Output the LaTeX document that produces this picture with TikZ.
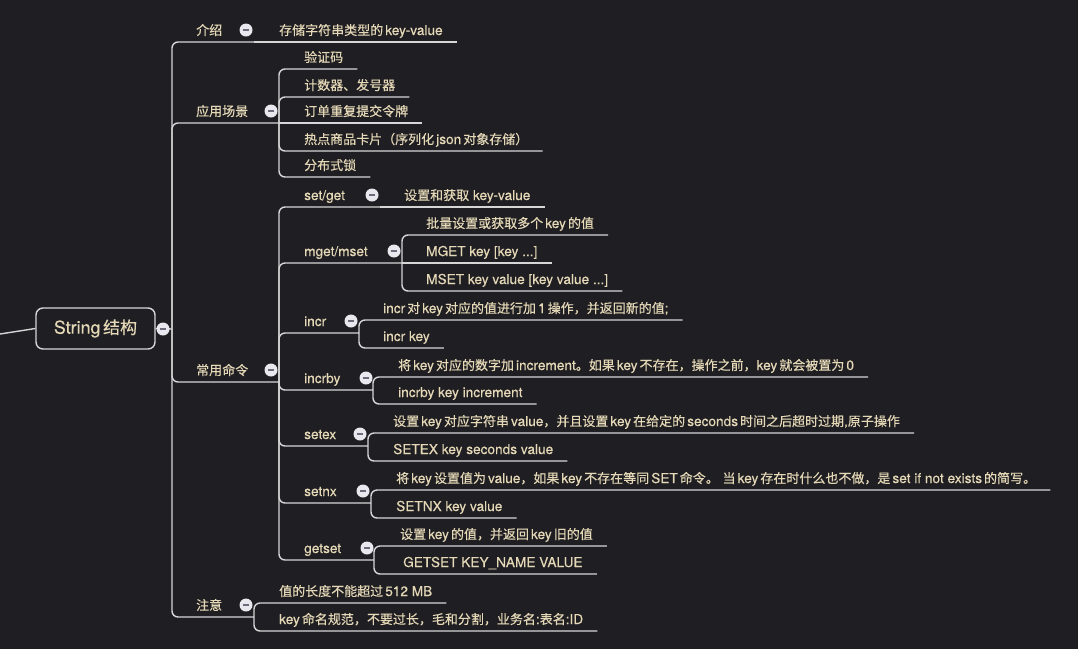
\documentclass[tikz,border=0pt]{standalone}
\usepackage{fontspec}
\setmainfont{TeX Gyre Heros}[FakeBold=0.35, Scale=1.05]
\newfontfamily\latfont{TeX Gyre Heros}[FakeBold=0.35, Scale=1.05]
\newfontfamily\cjkfont{Noto Sans CJK SC}[FakeBold=0.35]
\usetikzlibrary{calc}

% ideographs and full-width punctuation are set in the CJK family,
% with a thin gap where ideographs meet Latin letters or digits
\XeTeXinterchartokenstate=1
\newXeTeXintercharclass\cjkcls
\newXeTeXintercharclass\cjkpcls
\newXeTeXintercharclass\asciipcls
\newcount\cjkcnt
\cjkcnt="3040
\loop\XeTeXcharclass\cjkcnt=\cjkcls\relax\advance\cjkcnt by 1\relax\ifnum\cjkcnt<"A000\repeat
\cjkcnt="3000
\loop\XeTeXcharclass\cjkcnt=\cjkpcls\relax\advance\cjkcnt by 1\relax\ifnum\cjkcnt<"3040\repeat
\cjkcnt="FF00
\loop\XeTeXcharclass\cjkcnt=\cjkpcls\relax\advance\cjkcnt by 1\relax\ifnum\cjkcnt<"FFF0\repeat
\XeTeXcharclass`\,=\asciipcls
\XeTeXcharclass`\.=\asciipcls
\XeTeXcharclass`\:=\asciipcls
\XeTeXcharclass`\;=\asciipcls

\XeTeXinterchartoks 0 \cjkcls={\hskip0.15em\cjkfont}
\XeTeXinterchartoks 4095 \cjkcls={\cjkfont}
\XeTeXinterchartoks \cjkcls 0={\latfont\hskip0.15em}
\XeTeXinterchartoks \cjkcls 4095={\latfont}
\XeTeXinterchartoks 0 \cjkpcls={\cjkfont}
\XeTeXinterchartoks 4095 \cjkpcls={\cjkfont}
\XeTeXinterchartoks \cjkpcls 0={\latfont}
\XeTeXinterchartoks \cjkpcls 4095={\latfont}
\XeTeXinterchartoks \cjkcls \asciipcls={\latfont}
\XeTeXinterchartoks \cjkpcls \asciipcls={\latfont}
\XeTeXinterchartoks \asciipcls \cjkcls={\cjkfont}
\XeTeXinterchartoks \asciipcls \cjkpcls={\cjkfont}

\definecolor{bg}{HTML}{1F1E23}
\definecolor{ink}{HTML}{E4D8B6}
\definecolor{wire}{HTML}{D6D6D6}
\definecolor{knob}{HTML}{E8E8EE}
\definecolor{knobmark}{HTML}{6B6B7A}

\tikzset{
  conn/.style={draw=wire, line width=1.4pt, rounded corners=6pt},
  lbl/.style={anchor=base west, inner sep=0pt, text=ink,
    font=\fontsize{13}{15}\selectfont},
  rootbox/.style={draw=wire, line width=1.4pt, rounded corners=7pt, fill=bg,
    minimum width=119pt, minimum height=41pt, inner sep=0pt, text=ink,
    font=\fontsize{17}{20}\selectfont},
  fold/.style={circle, fill=knob, minimum size=13pt, inner sep=0pt,
    path picture={\draw[knobmark, line width=1.2pt]
      ([xshift=-3pt]path picture bounding box.center) --
      ([xshift=3pt]path picture bounding box.center);}},
}

\begin{document}
\begin{tikzpicture}[x=1pt, y=-1pt]
\fill[bg] (0,0) rectangle (1078,649);
\useasboundingbox (0,0) rectangle (1078,649);

% ---- labels ----
\node[rootbox] (root) at (95.5,328.5) {String结构};

\node[lbl] (jieshao) at (196,35)  {介绍};
\node[lbl] (yycj)    at (196,116) {应用场景};
\node[lbl] (cyml)    at (196,375) {常用命令};
\node[lbl] (zhuyi)   at (196,610) {注意};

\node[lbl] (jsv) at (279,35) {存储字符串类型的key-value};

\node[lbl] (yy1) at (304,62)  {验证码};
\node[lbl] (yy2) at (304,90)  {计数器、发号器};
\node[lbl] (yy3) at (304,116) {订单重复提交令牌};
\node[lbl] (yy4) at (304,144) {热点商品卡片（序列化json对象存储）};
\node[lbl] (yy5) at (304,170) {分布式锁};

\node[lbl] (setget) at (304,200) {set/get};
\node[lbl] (mget)   at (304,256) {mget/mset};
\node[lbl] (incr)   at (304,326) {incr};
\node[lbl] (incrby) at (304,383) {incrby};
\node[lbl] (setex)  at (304,439) {setex};
\node[lbl] (setnx)  at (304,496) {setnx};
\node[lbl] (getset) at (304,553) {getset};

\node[lbl] (sg1) at (404,200) {设置和获取 key-value};
\node[lbl] (mg1) at (426,228) {批量设置或获取多个key的值};
\node[lbl] (mg2) at (426,256) {MGET key [key ...]};
\node[lbl] (mg3) at (426,284) {MSET key value [key value ...]};
\node[lbl] (in1) at (383,313) {incr对key对应的值进行加1操作，并返回新的值;};
\node[lbl] (in2) at (383,341) {incr key};
\node[lbl] (ib1) at (398,370) {将key对应的数字加increment。如果key不存在，操作之前，key就会被置为0};
\node[lbl] (ib2) at (398,397) {incrby key increment};
\node[lbl] (se1) at (393,426) {设置key对应字符串value，并且设置key在给定的seconds时间之后超时过期,原子操作};
\node[lbl] (se2) at (393,454) {SETEX key seconds value};
\node[lbl] (sn1) at (396,483) {将key设置值为value，如果key不存在等同SET命令。 当key存在时什么也不做，是set if not exists的简写。};
\node[lbl] (sn2) at (396,511) {SETNX key value};
\node[lbl] (gs1) at (400,539) {设置key的值，并返回key旧的值};
\node[lbl] (gs2) at (403,567) {GETSET KEY\_NAME VALUE};

\node[lbl] (zy1) at (279,596) {值的长度不能超过512 MB};
\node[lbl] (zy2) at (279,624) {key命名规范，不要过长，毛和分割，业务名:表名:ID};

% ---- branch points ----
\coordinate (j0)  at (172,329);
\coordinate (jjs) at (254,42);
\coordinate (jyy) at (279,123);
\coordinate (jcy) at (279,382);
\coordinate (jzy) at (254,617);
\coordinate (jsg) at (380,207);
\coordinate (jmg) at (402,263);
\coordinate (jin) at (359,333);
\coordinate (jib) at (373,390);
\coordinate (jse) at (368,446);
\coordinate (jsn) at (371,503);
\coordinate (jgs) at (374,560);
\coordinate (feed) at (0,334);

% underline end of a leaf label
\foreach \n in {jsv,yy1,yy2,yy3,yy4,yy5,sg1,mg1,mg2,mg3,in1,in2,ib1,ib2,se1,se2,sn1,sn2,gs1,gs2,zy1,zy2}
  \coordinate (\n-u) at ($(\n.base east)+(14,7)$);

% ---- connectors ----
\draw[conn] (feed) .. controls (18,331) .. (root.west);
\draw[conn] (root.east) -- (j0);

\draw[conn] (j0) |- (jjs);
\draw[conn] (j0) |- (jyy);
\draw[conn] (j0) |- (jcy);
\draw[conn] (j0) |- (jzy);

\draw[conn] (jjs) -- (jsv-u);

\draw[conn] (jyy) |- (yy1-u);
\draw[conn] (jyy) |- (yy2-u);
\draw[conn] (jyy) -- (yy3-u);
\draw[conn] (jyy) |- (yy4-u);
\draw[conn] (jyy) |- (yy5-u);

\draw[conn] (jcy) |- (jsg);
\draw[conn] (jcy) |- (jmg);
\draw[conn] (jcy) |- (jin);
\draw[conn] (jcy) |- (jib);
\draw[conn] (jcy) |- (jse);
\draw[conn] (jcy) |- (jsn);
\draw[conn] (jcy) |- (jgs);

\draw[conn] (jsg) -- (sg1-u);
\draw[conn] (jmg) |- (mg1-u);
\draw[conn] (jmg) -- (mg2-u);
\draw[conn] (jmg) |- (mg3-u);
\draw[conn] (jin) |- (in1-u);
\draw[conn] (jin) |- (in2-u);
\draw[conn] (jib) |- (ib1-u);
\draw[conn] (jib) |- (ib2-u);
\draw[conn] (jse) |- (se1-u);
\draw[conn] (jse) |- (se2-u);
\draw[conn] (jsn) |- (sn1-u);
\draw[conn] (jsn) |- (sn2-u);
\draw[conn] (jgs) |- (gs1-u);
\draw[conn] (jgs) |- (gs2-u);

\draw[conn] (jzy) |- (zy1-u);
\draw[conn] (jzy) |- (zy2-u);

% ---- collapse knobs ----
\node[fold] (k-root)   at (163,329) {};
\node[fold] (k-js)     at (246,30)  {};
\node[fold] (k-yy)     at (271,111) {};
\node[fold] (k-cy)     at (271,370) {};
\node[fold] (k-zy)     at (246,605) {};
\node[fold] (k-sg)     at (372,195) {};
\node[fold] (k-mg)     at (394,251) {};
\node[fold] (k-in)     at (351,321) {};
\node[fold] (k-ib)     at (366,378) {};
\node[fold] (k-se)     at (360,434) {};
\node[fold] (k-sn)     at (363,491) {};
\node[fold] (k-gs)     at (367,548) {};
\end{tikzpicture}
\end{document}
